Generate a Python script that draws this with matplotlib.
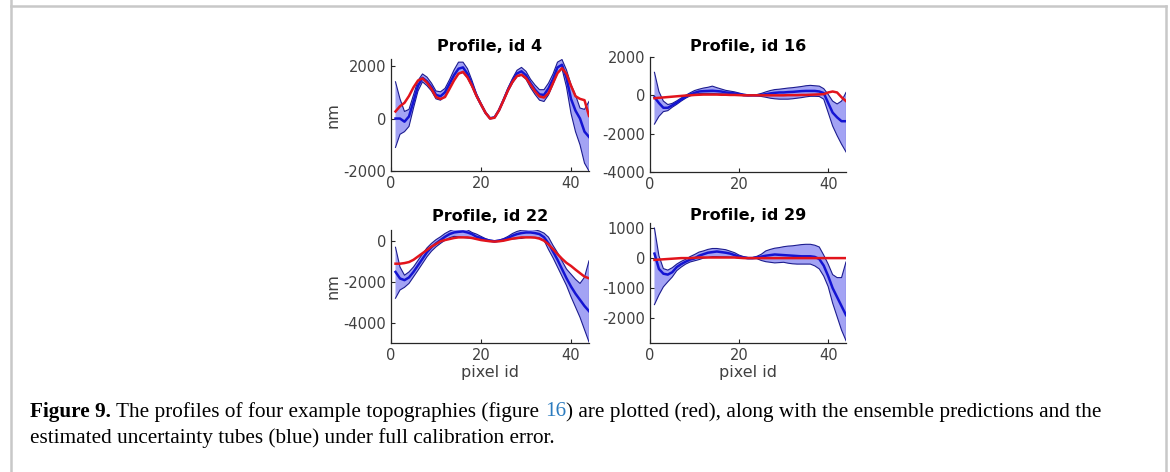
import numpy as np
import matplotlib
matplotlib.use("Agg")
import matplotlib.pyplot as plt
from matplotlib.lines import Line2D

# ---------------------------------------------------------------- data
pixel_id = np.arange(1, 45)

# topography id 4
id4_true = [270, 470, 600, 860, 1190, 1450, 1530, 1370, 1130, 820, 745, 820, 1130, 1450, 1710,
            1780, 1570, 1250, 860, 540, 220, 0, 30, 310, 690, 1080, 1400, 1620, 1670, 1540,
            1290, 1040, 840, 800, 970, 1350, 1730, 1920, 1700, 1250, 850, 750, 700, 100]
id4_mean = [0, 0, -120, 80, 650, 1250, 1550, 1420, 1200, 900, 850, 1000, 1320, 1650, 1900,
            1950, 1700, 1300, 880, 540, 220, 10, 40, 320, 700, 1100, 1440, 1720, 1800, 1650,
            1350, 1100, 920, 900, 1150, 1500, 1950, 2050, 1550, 750, 300, 0, -500, -700]
id4_lower = [-1100, -600, -500, -300, 400, 1050, 1400, 1250, 1050, 750, 700, 850, 1150, 1450, 1700,
             1750, 1550, 1200, 820, 500, 200, -10, 20, 290, 660, 1040, 1350, 1600, 1650, 1500,
             1180, 920, 700, 650, 900, 1300, 1750, 1900, 1200, 200, -500, -1000, -1700, -2000]
id4_upper = [1400, 750, 270, 350, 900, 1450, 1700, 1580, 1350, 1050, 1020, 1150, 1480, 1850, 2150,
             2150, 1900, 1450, 950, 580, 250, 30, 60, 350, 750, 1170, 1530, 1840, 1950, 1800,
             1500, 1280, 1100, 1100, 1350, 1700, 2150, 2250, 1850, 1300, 900, 400, 350, 650]

# topography id 16
id16_true = [-150, -130, -110, -90, -70, -50, -30, -10, 0, 20, 30, 40, 40, 40, 40,
             30, 30, 20, 20, 10, 0, 0, 0, 0, 0, 0, 0, 0, 0, 0,
             10, 10, 10, 20, 20, 30, 40, 50, 60, 150, 200, 150, -100, -300]
id16_mean = [-100, -400, -650, -650, -520, -380, -220, -80, 40, 130, 200, 220, 230, 240, 220,
             200, 150, 130, 100, 60, 20, 0, 0, 0, 20, 60, 100, 130, 150, 150,
             170, 180, 200, 220, 230, 230, 230, 200, 120, -400, -900, -1150, -1350, -1350]
id16_lower = [-1500, -1100, -850, -800, -620, -470, -300, -150, -30, 50, 90, 100, 100, 100, 80,
              80, 60, 50, 30, 10, -20, -30, -20, -30, -60, -100, -150, -180, -200, -200,
              -200, -180, -150, -120, -80, -50, -50, -60, -200, -900, -1600, -2100, -2550, -2950]
id16_upper = [1200, 200, -300, -480, -420, -290, -140, 0, 130, 250, 320, 380, 420, 480, 400,
              330, 260, 220, 180, 120, 60, 30, 30, 40, 100, 180, 250, 300, 320, 350,
              380, 400, 430, 460, 500, 520, 500, 480, 350, 50, -300, -450, -300, 150]

# topography id 22
id22_true = [-1090, -1090, -1060, -1010, -900, -740, -580, -420, -260, -130, 0, 60, 110, 160, 190,
             190, 190, 160, 110, 60, 30, 0, -15, 0, 30, 80, 130, 160, 190, 190,
             190, 180, 130, 30, -150, -380, -620, -850, -1050, -1200, -1380, -1550, -1720, -1800]
id22_mean = [-1490, -1810, -1890, -1760, -1490, -1170, -850, -530, -290, -100, 60, 220, 350, 430, 460,
             480, 430, 350, 220, 160, 80, 30, 0, 30, 80, 160, 270, 350, 400, 430,
             430, 400, 350, 200, -100, -500, -900, -1350, -1800, -2200, -2550, -2850, -3150, -3400]
id22_lower = [-2770, -2370, -2240, -2050, -1730, -1410, -1080, -750, -480, -270, -100, 50, 170, 240, 220,
              190, 160, 160, 110, 80, 30, 0, -30, 0, 30, 80, 110, 130, 140, 190,
              190, 180, 160, 50, -400, -800, -1250, -1700, -2150, -2700, -3200, -3700, -4300, -4900]
id22_upper = [-290, -1250, -1650, -1490, -1250, -930, -620, -320, -100, 80, 220, 380, 500, 590, 620,
              620, 560, 430, 350, 240, 130, 60, 30, 60, 130, 240, 380, 480, 540, 560,
              590, 560, 500, 400, 200, -200, -550, -950, -1350, -1600, -1850, -2050, -1750, -950]

# topography id 29
id29_true = [-60, -50, -40, -30, -20, -10, 0, 0, 0, 10, 20, 20, 20, 20, 20,
             20, 20, 20, 20, 10, 0, 0, 0, 0, 0, 0, 0, 0, 0, 0,
             0, 0, 0, 0, 0, 0, 0, 0, 0, 0, 0, 0, 0, 0]
id29_mean = [150, -360, -520, -550, -470, -300, -200, -120, -50, -10, 80, 130, 180, 200, 220,
             200, 180, 150, 100, 50, 20, 0, 0, 20, 50, 80, 100, 120, 110, 100,
             90, 80, 70, 60, 60, 60, 40, -30, -250, -600, -1000, -1300, -1600, -1900]
id29_lower = [-1550, -1230, -960, -790, -630, -420, -300, -200, -130, -90, -50, 0, 20, 50, 50,
              40, 40, 30, 20, 0, -10, -20, -20, -20, -80, -120, -140, -160, -150, -140,
              -170, -190, -200, -200, -200, -200, -260, -360, -600, -950, -1500, -1950, -2400, -2750]
id29_upper = [1000, 80, -350, -400, -320, -200, -110, -40, 50, 120, 200, 240, 290, 320, 320,
              300, 280, 230, 180, 100, 50, 20, 20, 60, 130, 240, 290, 330, 350, 380,
              400, 410, 430, 450, 460, 460, 430, 370, 100, -200, -550, -650, -650, -130]

titles = ["Profile, id 4", "Profile, id 16", "Profile, id 22", "Profile, id 29"]
y_ticks = [[-2000, 0, 2000], [-4000, -2000, 0, 2000], [-4000, -2000, 0], [-2000, -1000, 0, 1000]]
x_ticks = [0, 20, 40]

# caption runs: (text, weight, colour, space after)
caption_line1 = [("Figure 9.", "bold", "black", True),
                 ("The profiles of four example topographies (figure", "normal", "black", True),
                 ("16", "normal", "#2b7bbf", False),
                 (") are plotted (red), along with the ensemble predictions and the", "normal", "black", False)]
caption_line2 = [("estimated uncertainty tubes (blue) under full calibration error.", "normal", "black", False)]

# ---------------------------------------------------------------- layout
W, H = 1170, 472
plt.rcParams["font.family"] = ["DejaVu Sans"]
plt.rcParams["axes.unicode_minus"] = False
fig = plt.figure(figsize=(W / 100, H / 100), dpi=100)


def px_axes(left, top, right, bottom):
    return fig.add_axes([left / W, 1 - bottom / H, (right - left) / W, (bottom - top) / H])


layout = [
    dict(box=(391, 59, 589, 171), ylim=(-2000, 2270), pad=8, ylab=True, xlab=False),
    dict(box=(650, 57, 846, 172), ylim=(-4000, 2000), pad=6, ylab=False, xlab=False),
    dict(box=(391, 230, 589, 343), ylim=(-4950, 550), pad=9, ylab=True, xlab=True),
    dict(box=(650, 223, 846, 343), ylim=(-2830, 1170), pad=3, ylab=False, xlab=True),
]

series = [
    (id4_true, id4_mean, id4_lower, id4_upper),
    (id16_true, id16_mean, id16_lower, id16_upper),
    (id22_true, id22_mean, id22_lower, id22_upper),
    (id29_true, id29_mean, id29_lower, id29_upper),
]

axis_col = "#262626"
label_col = "#404040"

for spec, (true, mean, lower, upper), title, yt in zip(layout, series, titles, y_ticks):
    ax = px_axes(*spec["box"])
    ax.fill_between(pixel_id, lower, upper, facecolor="#a3a3f4", edgecolor="none", zorder=1)
    ax.plot(pixel_id, lower, color="#1c1c8f", lw=0.8, zorder=2)
    ax.plot(pixel_id, upper, color="#1c1c8f", lw=0.8, zorder=2)
    ax.plot([pixel_id[-1], pixel_id[-1]], [lower[-1], upper[-1]], color="#1c1c8f", lw=0.8, zorder=2)
    ax.plot(pixel_id, mean, color="#1414d2", lw=1.8, zorder=3)
    ax.plot(pixel_id, true, color="#e2141c", lw=1.8, zorder=4)

    ax.set_xlim(0, 44)
    ax.set_ylim(*spec["ylim"])
    ax.set_xticks(x_ticks)
    ax.set_yticks(yt)
    for side in ("top", "right"):
        ax.spines[side].set_visible(False)
    for side in ("left", "bottom"):
        ax.spines[side].set_color(axis_col)
        ax.spines[side].set_linewidth(0.9)
    ax.tick_params(direction="in", length=3, width=0.8, color=axis_col,
                   labelcolor=label_col, labelsize=10.5, pad=3.6)
    ax.set_title(title, fontsize=11.5, fontweight="bold", color="black", pad=spec["pad"] * 0.72)
    if spec["ylab"]:
        ax.set_ylabel("nm", fontsize=11.5, color=label_col)
        ax.yaxis.set_label_coords((333 - spec["box"][0]) / (spec["box"][2] - spec["box"][0]), 0.5)
        ax.yaxis.label.set_va("center")
    if spec["xlab"]:
        ax.set_xlabel("pixel id", fontsize=11.5, color=label_col)
        b = spec["box"]
        ax.xaxis.set_label_coords(0.5, -(372 - b[3]) / (b[3] - b[1]))
        ax.xaxis.label.set_va("center")

# ---------------------------------------------------------------- frame around the figure
frame_col = "#c8c8c8"
for xs, ys in [((11, 11), (0, 472)), ((11, 1166), (6, 6)), ((1166, 1166), (6, 472))]:
    fig.add_artist(Line2D([x / W for x in xs], [1 - y / H for y in ys],
                          color=frame_col, lw=1.8, transform=fig.transFigure))

# ---------------------------------------------------------------- caption
renderer = fig.canvas.get_renderer()
serif = "Liberation Serif"


def text_width(s, size, weight="normal"):
    t = fig.text(0, 0, s, fontsize=size, fontweight=weight, family=serif)
    w = t.get_window_extent(renderer).width
    t.remove()
    return w


def space_width(size):
    return text_width("a a", size) - text_width("aa", size)


def line_width(runs, size):
    sp = space_width(size)
    return sum(text_width(s, size, wt) + (sp if gap else 0) for s, wt, col, gap in runs)


def draw_line(runs, x0, y, size):
    sp = space_width(size)
    x = x0
    for s, wt, col, gap in runs:
        fig.text(x / W, 1 - y / H, s, fontsize=size, fontweight=wt, family=serif,
                 color=col, va="center", ha="left")
        x += text_width(s, size, wt) + (sp if gap else 0)


base = 12.0
cap_size = base * (1101 - 30) / line_width(caption_line1, base)
draw_line(caption_line1, 30, 412, cap_size)
draw_line(caption_line2, 30, 438, cap_size)

fig.savefig("out.png", dpi=100)
